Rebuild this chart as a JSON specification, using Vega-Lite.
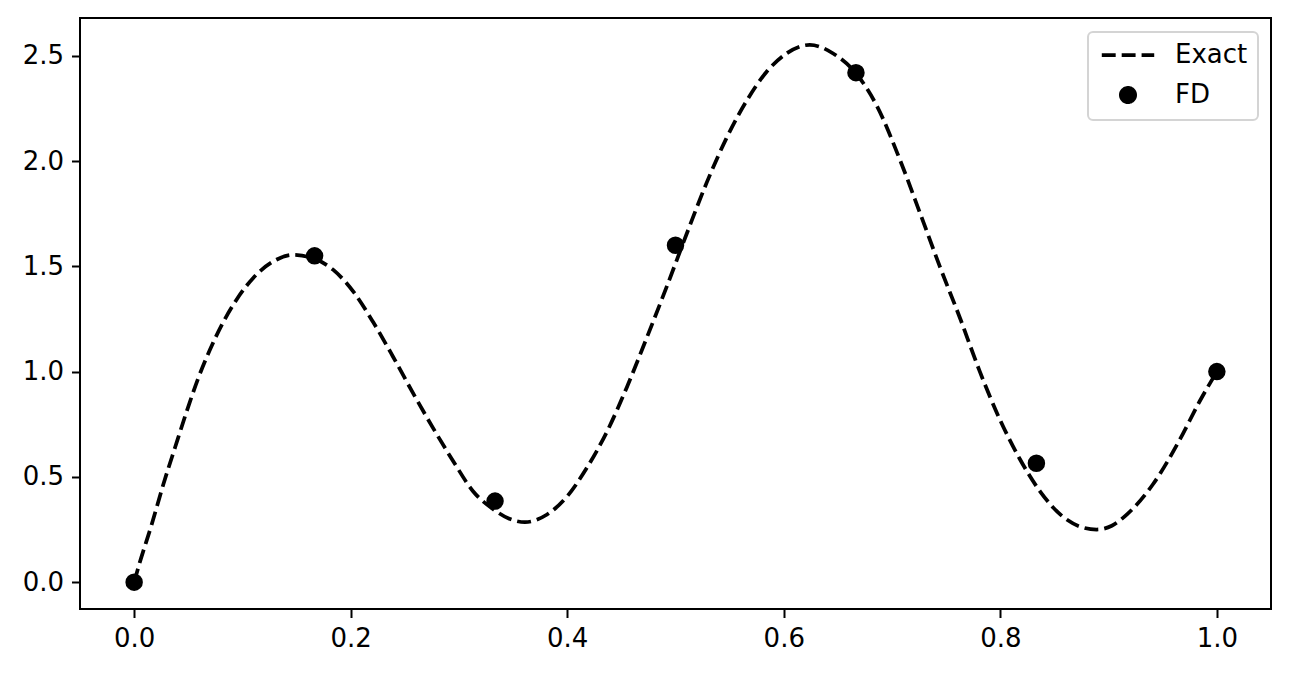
{
  "$schema": "https://vega.github.io/schema/vega-lite/v6.json",
  "width": 1191,
  "height": 591,
  "autosize": {"type": "none"},
  "padding": {"left": 80, "top": 18, "right": 18, "bottom": 65},
  "background": "white",
  "config": {
    "view": {"stroke": "black", "strokeWidth": 2},
    "font": "DejaVu Sans",
    "axis": {
      "grid": false,
      "domain": false,
      "tickColor": "black",
      "tickWidth": 2,
      "tickSize": 8.5,
      "labelPadding": 8,
      "labelFont": "DejaVu Sans",
      "labelFontSize": 26,
      "labelColor": "black",
      "title": null
    },
    "legend": {
      "padding": 10,
      "fillColor": "white",
      "strokeColor": "#d4d4d4",
      "cornerRadius": 5,
      "labelFont": "DejaVu Sans",
      "labelFontSize": 26,
      "labelColor": "black",
      "labelOffset": 34,
      "symbolOffset": 17,
      "rowPadding": 12,
      "symbolSize": 203,
      "symbolStrokeWidth": 3.75,
      "symbolStrokeColor": "black",
      "symbolFillColor": "black",
      "symbolOpacity": 1
    }
  },
  "datasets": {
    "exact": [
      {"x": 0.0, "u": 0.0, "series": "Exact"},
      {"x": 0.005, "u": 0.09, "series": "Exact"},
      {"x": 0.016, "u": 0.27, "series": "Exact"},
      {"x": 0.027, "u": 0.465, "series": "Exact"},
      {"x": 0.038, "u": 0.643, "series": "Exact"},
      {"x": 0.049, "u": 0.818, "series": "Exact"},
      {"x": 0.059, "u": 0.966, "series": "Exact"},
      {"x": 0.07, "u": 1.104, "series": "Exact"},
      {"x": 0.082, "u": 1.232, "series": "Exact"},
      {"x": 0.095, "u": 1.345, "series": "Exact"},
      {"x": 0.11, "u": 1.445, "series": "Exact"},
      {"x": 0.129, "u": 1.525, "series": "Exact"},
      {"x": 0.147, "u": 1.555, "series": "Exact"},
      {"x": 0.166, "u": 1.537, "series": "Exact"},
      {"x": 0.184, "u": 1.483, "series": "Exact"},
      {"x": 0.203, "u": 1.376, "series": "Exact"},
      {"x": 0.221, "u": 1.233, "series": "Exact"},
      {"x": 0.239, "u": 1.072, "series": "Exact"},
      {"x": 0.258, "u": 0.894, "series": "Exact"},
      {"x": 0.276, "u": 0.733, "series": "Exact"},
      {"x": 0.295, "u": 0.572, "series": "Exact"},
      {"x": 0.313, "u": 0.432, "series": "Exact"},
      {"x": 0.332, "u": 0.345, "series": "Exact"},
      {"x": 0.346, "u": 0.302, "series": "Exact"},
      {"x": 0.361, "u": 0.285, "series": "Exact"},
      {"x": 0.381, "u": 0.32, "series": "Exact"},
      {"x": 0.4, "u": 0.408, "series": "Exact"},
      {"x": 0.418, "u": 0.542, "series": "Exact"},
      {"x": 0.437, "u": 0.718, "series": "Exact"},
      {"x": 0.455, "u": 0.925, "series": "Exact"},
      {"x": 0.473, "u": 1.155, "series": "Exact"},
      {"x": 0.492, "u": 1.405, "series": "Exact"},
      {"x": 0.51, "u": 1.65, "series": "Exact"},
      {"x": 0.529, "u": 1.9, "series": "Exact"},
      {"x": 0.547, "u": 2.108, "series": "Exact"},
      {"x": 0.566, "u": 2.289, "series": "Exact"},
      {"x": 0.584, "u": 2.423, "series": "Exact"},
      {"x": 0.603, "u": 2.513, "series": "Exact"},
      {"x": 0.624, "u": 2.552, "series": "Exact"},
      {"x": 0.646, "u": 2.51, "series": "Exact"},
      {"x": 0.667, "u": 2.415, "series": "Exact"},
      {"x": 0.686, "u": 2.262, "series": "Exact"},
      {"x": 0.707, "u": 2.01, "series": "Exact"},
      {"x": 0.726, "u": 1.751, "series": "Exact"},
      {"x": 0.744, "u": 1.501, "series": "Exact"},
      {"x": 0.763, "u": 1.251, "series": "Exact"},
      {"x": 0.781, "u": 1.001, "series": "Exact"},
      {"x": 0.8, "u": 0.768, "series": "Exact"},
      {"x": 0.818, "u": 0.585, "series": "Exact"},
      {"x": 0.837, "u": 0.429, "series": "Exact"},
      {"x": 0.858, "u": 0.31, "series": "Exact"},
      {"x": 0.873, "u": 0.265, "series": "Exact"},
      {"x": 0.889, "u": 0.25, "series": "Exact"},
      {"x": 0.903, "u": 0.268, "series": "Exact"},
      {"x": 0.917, "u": 0.322, "series": "Exact"},
      {"x": 0.941, "u": 0.465, "series": "Exact"},
      {"x": 0.966, "u": 0.679, "series": "Exact"},
      {"x": 0.984, "u": 0.858, "series": "Exact"},
      {"x": 1.0, "u": 1.0, "series": "Exact"}
    ],
    "fd": [
      {"x": 0.0, "u": 0.0, "series": "FD"},
      {"x": 0.16667, "u": 1.55, "series": "FD"},
      {"x": 0.33333, "u": 0.385, "series": "FD"},
      {"x": 0.5, "u": 1.6, "series": "FD"},
      {"x": 0.66667, "u": 2.42, "series": "FD"},
      {"x": 0.83333, "u": 0.565, "series": "FD"},
      {"x": 1.0, "u": 1.0, "series": "FD"}
    ]
  },
  "encoding": {
    "x": {
      "field": "x",
      "type": "quantitative",
      "scale": {"domain": [-0.05, 1.05], "nice": false, "zero": false},
      "axis": {"values": [0, 0.2, 0.4, 0.6, 0.8, 1.0], "format": ".1f"}
    },
    "y": {
      "field": "u",
      "type": "quantitative",
      "scale": {"domain": [-0.1276, 2.6797], "nice": false, "zero": false},
      "axis": {"values": [0, 0.5, 1.0, 1.5, 2.0, 2.5], "format": ".1f"}
    }
  },
  "layer": [
    {
      "data": {"name": "exact"},
      "mark": {"type": "line", "color": "black", "strokeWidth": 3.75, "interpolate": "monotone"},
      "encoding": {
        "strokeDash": {
          "field": "series",
          "type": "nominal",
          "scale": {"domain": ["Exact", "FD"], "range": [[13.9, 6], [1, 0]]},
          "legend": {
            "title": null,
            "orient": "none",
            "legendX": 1008,
            "legendY": 14,
            "encode": {
              "symbols": {"update": {"stroke": {"value": "black"}, "strokeWidth": {"value": 3.75}, "fill": {"value": "black"}, "opacity": {"value": 1}}},
              "legend": {"update": {"strokeWidth": {"value": 2}}}
            }
          }
        }
      }
    },
    {
      "data": {"name": "fd"},
      "mark": {"type": "point", "filled": true, "color": "black", "opacity": 1, "size": 225, "stroke": "black", "strokeWidth": 2.5},
      "encoding": {
        "shape": {
          "field": "series",
          "type": "nominal",
          "scale": {"domain": ["Exact", "FD"], "range": ["M-3.68,0L3.68,0", "circle"]},
          "legend": {
            "title": null,
            "orient": "none",
            "legendX": 1008,
            "legendY": 14,
            "encode": {
              "symbols": {"update": {"stroke": {"value": "black"}, "strokeWidth": {"value": 3.75}, "fill": {"value": "black"}, "opacity": {"value": 1}}},
              "legend": {"update": {"strokeWidth": {"value": 2}}}
            }
          }
        }
      }
    }
  ]
}
